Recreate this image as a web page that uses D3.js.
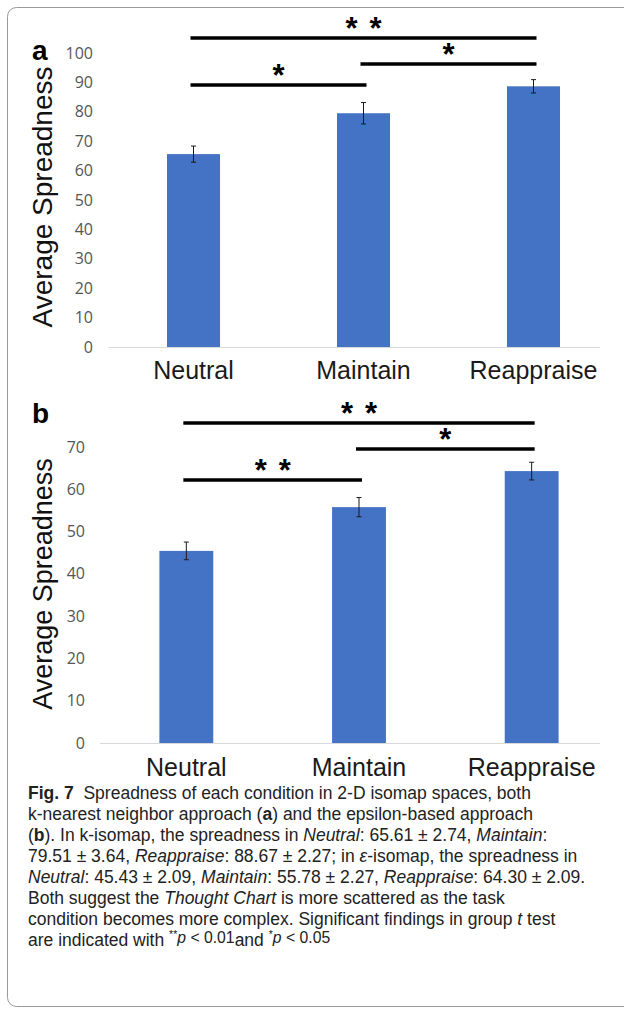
<!DOCTYPE html>
<html>
<head>
<meta charset="utf-8">
<script src="https://cdn.jsdelivr.net/npm/d3@7/dist/d3.min.js"></script>
<style>
  html, body { margin: 0; padding: 0; background: #fff; }
  svg { display: block; }
</style>
</head>
<body>
<svg id="chart" width="624" height="1010"></svg>
<script>
// ---------- data ----------
const categories = ["Neutral", "Maintain", "Reappraise"];
const meansA = [65.61, 79.51, 88.67];
const errorsA = [2.74, 3.64, 2.27];
const meansB = [45.43, 55.78, 64.30];
const errorsB = [2.09, 2.27, 2.09];
const ticksA = [0, 10, 20, 30, 40, 50, 60, 70, 80, 90, 100];
const ticksB = [0, 10, 20, 30, 40, 50, 60, 70];
// significance brackets: [from category, to category, number of stars, bracket height in data units]
const sigA = [[0, 1, 1, 89.1], [1, 2, 1, 96.3], [0, 2, 2, 105.1]];
const sigB = [[0, 1, 2, 62.2], [1, 2, 1, 69.5], [0, 2, 2, 75.7]];

// ---------- layout ----------
const svg = d3.select("#chart");
const BLUE = "#4472C4";

svg.append("rect")
  .attr("x", 7.5).attr("y", 7.5).attr("width", 640).attr("height", 999)
  .attr("rx", 9).attr("fill", "none").attr("stroke", "#9a9a9a").attr("stroke-width", 1);

const panels = [
  { tag: "a", means: meansA, errs: errorsA, ticks: ticksA, domain: [0, 100],
    yRange: [347, 53], xRange: [108.5, 618.5], tickRight: 93, tagY: 60,
    titleY: 197, titleSize: 28, catY: 379, sig: sigA },
  { tag: "b", means: meansB, errs: errorsB, ticks: ticksB, domain: [0, 70],
    yRange: [743, 447], xRange: [100, 618], tickRight: 85, tagY: 423,
    titleY: 584, titleSize: 27, catY: 776, sig: sigB }
];

panels.forEach(p => {
  const g = svg.append("g");
  const x = d3.scaleBand().domain(categories).range(p.xRange)
    .paddingInner(0.688).paddingOuter(0.344);
  const y = d3.scaleLinear().domain(p.domain).range(p.yRange);

  // panel tag
  g.append("text").attr("x", 32).attr("y", p.tagY)
    .attr("font-family", "Liberation Sans, Arial, sans-serif")
    .attr("font-weight", "bold").attr("font-size", 28).attr("fill", "#000")
    .text(p.tag);

  // y-axis title
  g.append("text")
    .attr("transform", `translate(52,${p.titleY}) rotate(-90)`)
    .attr("text-anchor", "middle")
    .attr("font-family", "Liberation Sans, Arial, sans-serif")
    .attr("font-size", p.titleSize).attr("fill", "#111")
    .text("Average Spreadness");

  // y axis tick labels
  const yAxis = d3.axisLeft(y).tickValues(p.ticks).tickSize(0).tickPadding(0)
    .tickFormat(d3.format("d"));
  const ax = g.append("g").attr("transform", `translate(${p.tickRight},0)`).call(yAxis);
  ax.select(".domain").remove();
  ax.selectAll("text")
    .attr("font-family", "Open Sans, sans-serif")
    .attr("font-size", 16).attr("fill", "#555");

  // baseline
  g.append("line")
    .attr("x1", p.xRange[0]).attr("x2", 600)
    .attr("y1", y(0) + 0.5).attr("y2", y(0) + 0.5)
    .attr("stroke", "#d9d9d9").attr("stroke-width", 1);

  const rows = categories.map((c, i) => ({ c, m: p.means[i], e: p.errs[i] }));

  // bars
  g.selectAll("rect.bar").data(rows).join("rect").attr("class", "bar")
    .attr("x", d => x(d.c)).attr("width", x.bandwidth())
    .attr("y", d => y(d.m)).attr("height", d => y(0) - y(d.m))
    .attr("fill", BLUE);

  // error bars
  const cx = d => x(d.c) + x.bandwidth() / 2;
  const eb = g.selectAll("g.err").data(rows).join("g").attr("class", "err")
    .attr("stroke", "#1a1a1a").attr("stroke-width", 1);
  eb.append("line").attr("x1", cx).attr("x2", cx)
    .attr("y1", d => y(d.m - d.e)).attr("y2", d => y(d.m + d.e));
  eb.append("line").attr("x1", d => cx(d) - 2.5).attr("x2", d => cx(d) + 2.5)
    .attr("y1", d => y(d.m + d.e)).attr("y2", d => y(d.m + d.e));
  eb.append("line").attr("x1", d => cx(d) - 2.5).attr("x2", d => cx(d) + 2.5)
    .attr("y1", d => y(d.m - d.e)).attr("y2", d => y(d.m - d.e));

  // category labels
  g.selectAll("text.cat").data(rows).join("text").attr("class", "cat")
    .attr("x", cx).attr("y", p.catY).attr("text-anchor", "middle")
    .attr("font-family", "Liberation Sans, Arial, sans-serif")
    .attr("font-size", 25).attr("fill", "#1a1a1a")
    .text(d => d.c);

  // significance brackets
  const center = i => x(categories[i]) + x.bandwidth() / 2;
  p.sig.forEach(([a, b, n, lvl]) => {
    const x1 = center(a) - 3, x2 = center(b) + 3, yy = y(lvl);
    g.append("line").attr("x1", x1).attr("x2", x2).attr("y1", yy).attr("y2", yy)
      .attr("stroke", "#000").attr("stroke-width", 3.5);
    const mid = (center(a) + center(b)) / 2;
    for (let k = 0; k < n; k++) {
      const off = (k - (n - 1) / 2) * 24;
      g.append("text").attr("x", mid + off).attr("y", yy + 1)
        .attr("text-anchor", "middle")
        .attr("font-family", "Liberation Sans, Arial, sans-serif")
        .attr("font-weight", "bold")
        .attr("font-size", 31).attr("fill", "#000").text("*");
    }
  });
});

// ---------- caption ----------
const captionLines = [
  [["Fig. 7", "b"], ["  Spreadness of each condition in 2-D isomap spaces, both", "n"]],
  [["k-nearest neighbor approach (", "n"], ["a", "b"], [") and the epsilon-based approach", "n"]],
  [["(", "n"], ["b", "b"], ["). In k-isomap, the spreadness in ", "n"], ["Neutral", "i"], [": 65.61 \u00B1 2.74, ", "n"], ["Maintain", "i"], [":", "n"]],
  [["79.51 \u00B1 3.64, ", "n"], ["Reappraise", "i"], [": 88.67 \u00B1 2.27; in ", "n"], ["\u03B5", "i"], ["-isomap, the spreadness in", "n"]],
  [["Neutral", "i"], [": 45.43 \u00B1 2.09, ", "n"], ["Maintain", "i"], [": 55.78 \u00B1 2.27, ", "n"], ["Reappraise", "i"], [": 64.30 \u00B1 2.09.", "n"]],
  [["Both suggest the ", "n"], ["Thought Chart", "i"], [" is more scattered as the task", "n"]],
  [["condition becomes more complex. Significant findings in group ", "n"], ["t", "i"], [" test", "n"]]
];
// last line: [text, style, px above baseline, relative size]
const lastLine = [
  ["are indicated with ", "n", 0, 1], ["**", "n", 8, 0.6], ["p", "i", 3, 0.9], [" < 0.01", "n", 3, 0.9],
  ["and ", "n", 0, 1], ["*", "n", 8, 0.6], ["p", "i", 3, 0.9], [" < 0.05", "n", 3, 0.9]
];

const capX = 28, capY0 = 799, capStep = 21;
const capFont = "Liberation Sans, Arial, sans-serif";
const capG = svg.append("g").attr("font-family", capFont).attr("fill", "#222");

function drawLine(g, segs, yy, size) {
  const t = g.append("text").attr("x", capX).attr("y", yy).attr("font-size", size)
    .style("white-space", "pre");
  segs.forEach(([s, st]) => {
    const ts = t.append("tspan").text(s);
    if (st === "b") ts.attr("font-weight", "bold");
    if (st === "i") ts.attr("font-style", "italic");
  });
  return t;
}

// fit font size so the widest caption line stays inside the frame
let maxW = 0;
captionLines.forEach(segs => {
  const pr = drawLine(capG, segs, -100, 18);
  maxW = Math.max(maxW, pr.node().getComputedTextLength());
  pr.remove();
});
const capSize = Math.min(17.5, 18 * 586 / maxW);

captionLines.forEach((segs, i) => drawLine(capG, segs, capY0 + i * capStep, capSize));

// last line drawn piecewise so raised parts keep their own baseline
{
  const yy = capY0 + captionLines.length * capStep;
  let cxPos = capX;
  lastLine.forEach(([s, st, up, rel]) => {
    const t = capG.append("text").attr("x", cxPos).attr("y", yy - up)
      .attr("font-size", capSize * rel)
      .style("white-space", "pre")
      .text(s);
    if (st === "i") t.attr("font-style", "italic");
    cxPos += t.node().getComputedTextLength();
  });
}
</script>
</body>
</html>
